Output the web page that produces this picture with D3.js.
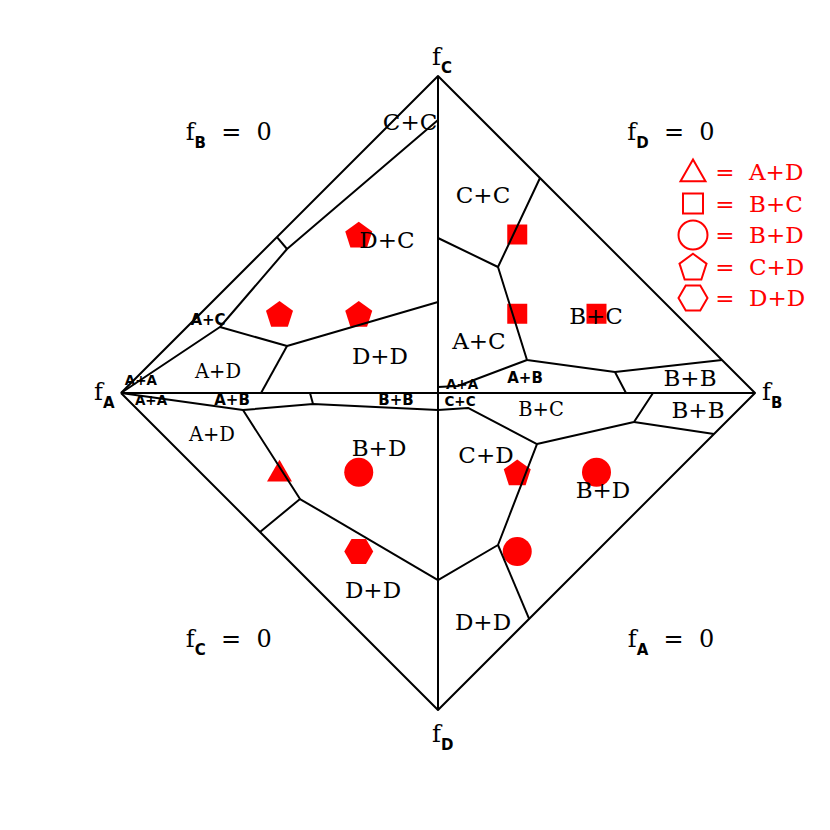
<!DOCTYPE html>
<html>
<head>
<meta charset="utf-8">
<script src="https://cdn.jsdelivr.net/npm/d3@7"></script>
<style>
  html, body { margin: 0; padding: 0; background: #fff; }
  svg { display: block; }
  text { white-space: pre; }
</style>
</head>
<body>
<svg id="chart" width="830" height="830"></svg>
<script>
// ---------- data (unit coordinates: f_A=(-4,0), f_B=(4,0), f_C=(0,4), f_D=(0,-4)) ----------
const vertexNames = ["A", "B", "C", "D"];
const vertexX = [-4, 4, 0, 0];
const vertexY = [0, 0, 4, -4];

// region boundaries (polylines)
const outline = [[-4,0],[0,4],[4,0],[0,-4],[-4,0]];
const axisLines = [ [[-4,0],[4,0]], [[0,4],[0,-4]] ];
const boundaries = [
  // upper left (A, C, D)
  [[0,3.445],[-1.905,1.817],[-2.751,0.833],[-4,0]],
  [[-2.032,1.968],[-1.905,1.817]],
  [[-2.751,0.833],[-1.905,0.593],[0,1.148]],
  [[-1.905,0.593],[-2.233,0]],
  // upper right (B, C)
  [[0,1.956],[0.757,1.590],[1.287,2.713]],
  [[0.757,1.590],[1.123,0.416],[2.233,0.265],[2.372,0]],
  [[2.233,0.265],[3.584,0.416]],
  [[1.123,0.416],[0.252,0.088],[0,0.076]],
  // lower right (B, D)
  [[0,-0.215],[0.379,-0.189],[1.249,-0.644],[2.473,-0.366],[2.713,0]],
  [[2.473,-0.366],[3.483,-0.517]],
  [[1.249,-0.644],[0.757,-1.918],[0,-2.360]],
  [[0.757,-1.918],[1.15,-2.85]],
  // lower left (A, D)
  [[-4,0],[-2.461,-0.215],[-1.577,-0.139],[0,-0.215]],
  [[-1.577,-0.139],[-1.615,0]],
  [[-2.461,-0.215],[-1.741,-1.338],[-2.246,-1.754]],
  [[-1.741,-1.338],[0,-2.360]]
];

// red markers (grid points)
const triangles = [[-2,-1]];
const squares   = [[1,2],[1,1],[2,1]];
const circles   = [[-1,-1],[2,-1],[1,-2]];
const pentagons = [[-1,2],[-2,1],[-1,1],[1,-1]];
const hexagons  = [[-1,-2]];

// region labels
const bigLabels = [
  ["C+C",-0.353,3.42],["D+C",-0.644,1.931],["D+D",-0.732,0.467],
  ["C+C",0.568,2.498],["A+C",0.517,0.656],["B+C",1.994,0.972],
  ["B+B",3.18,0.189],["B+B",3.281,-0.215],["B+D",-0.744,-0.694],
  ["C+D",0.606,-0.782],["B+D",2.082,-1.224],["D+D",-0.82,-2.486],["D+D",0.568,-2.89]
];
const midLabels = [
  ["A+D",-2.776,0.278],["A+D",-2.852,-0.517],["B+C",1.30,-0.202]
];
const smallLabels = [
  ["A+C",-2.902,0.921],["A+B",-2.599,-0.088],["B+B",-0.53,-0.088],
  ["A+B",1.098,0.189]
];
const centreLabels = [
  ["A+A",0.303,0.108],["C+C",0.278,-0.108]
];
const tinyLabels = [
  ["A+A",-3.748,0.164],["A+A",-3.621,-0.088]
];
const legendSymbols = ["triangle","square","circle","pentagon","hexagon"];
const legendTexts = ["A+D","B+C","B+D","C+D","D+D"];
const cornerSubs = ["B","D","C","A"];
const cornerX = [-2.64, 2.94, -2.64, 2.94];
const cornerY = [3.19, 3.19, -3.2, -3.2];

// ---------- drawing ----------
const svg = d3.select("#chart");
const x = d3.scaleLinear().domain([-4, 4]).range([121, 755]);
const y = d3.scaleLinear().domain([-4, 4]).range([710, 76]);
const SERIF = "'DejaVu Serif', serif";
const SANS = "'DejaVu Sans', sans-serif";
const RED = "#ff0000";

function polyPath(R) {
  return n => {
    const pts = d3.range(n).map(i => {
      const a = -Math.PI / 2 + i * 2 * Math.PI / n;
      return [R * Math.cos(a), R * Math.sin(a)];
    });
    return "M" + pts.map(p => p.join(",")).join("L") + "Z";
  };
}
function hexPath(R) {
  const pts = d3.range(6).map(i => {
    const a = i * Math.PI / 3;
    return [R * Math.cos(a), R * Math.sin(a)];
  });
  return "M" + pts.map(p => p.join(",")).join("L") + "Z";
}
const shapePath = {
  triangle: d3.symbol(d3.symbolTriangle, 270)(),
  square: d3.symbol(d3.symbolSquare, 400)(),
  circle: d3.symbol(d3.symbolCircle, 660)(),
  pentagon: polyPath(14.2)(5),
  hexagon: hexPath(14.5)
};

const markerGroups = [
  ["triangle", triangles], ["square", squares], ["circle", circles],
  ["pentagon", pentagons], ["hexagon", hexagons]
];
const gm = svg.append("g");
markerGroups.forEach(([shape, pts]) => {
  gm.selectAll(null).data(pts).enter().append("path")
    .attr("d", shapePath[shape])
    .attr("transform", d => {
      const dy = shape === "triangle" ? 2 : (shape === "pentagon" ? 1.5 : 0);
      return `translate(${x(d[0])},${y(d[1]) + dy})`;
    })
    .attr("fill", RED);
});

const line = d3.line().x(d => x(d[0])).y(d => y(d[1]));
const gl = svg.append("g").attr("fill", "none").attr("stroke", "#000")
  .attr("stroke-width", 2).attr("stroke-linejoin", "round");
gl.append("path").attr("d", line(outline));
axisLines.forEach(l => gl.append("path").attr("d", line(l)));
boundaries.forEach(l => gl.append("path").attr("d", line(l)));

function addLabels(arr, size, family, weight) {
  svg.append("g").selectAll(null).data(arr).enter().append("text")
    .attr("x", d => x(d[1])).attr("y", d => y(d[2]))
    .attr("dy", "0.36em")
    .attr("text-anchor", "middle")
    .attr("font-family", family).attr("font-size", size).attr("font-weight", weight)
    .attr("fill", "#000")
    .text(d => d[0]);
}
addLabels(bigLabels, 23, SERIF, "normal");
addLabels(midLabels, 19.5, SERIF, "normal");
addLabels(smallLabels, 15, SANS, "bold");
addLabels(centreLabels, 13.5, SANS, "bold");
addLabels(tinyLabels, 13.5, SANS, "bold");

// vertex labels f_X
function fLabel(px, py, sub, tail) {
  const t = svg.append("text").attr("x", px).attr("y", py)
    .attr("fill", "#000");
  t.append("tspan").attr("font-family", SERIF).attr("font-size", 24).text("f");
  t.append("tspan").attr("font-family", SANS).attr("font-weight", "bold")
    .attr("font-size", 15).attr("dy", 8).text(sub);
  if (tail) {
    t.append("tspan").attr("font-family", SERIF).attr("font-size", 24)
      .attr("dy", -8).text(tail);
  }
  return t;
}
// vertex labels positioned relative to the vertices
fLabel(x(vertexX[2]) - 6, y(vertexY[2]) - 11, vertexNames[2]);
fLabel(x(vertexX[0]) - 27, y(vertexY[0]) + 7, vertexNames[0]);
fLabel(x(vertexX[1]) + 7, y(vertexY[1]) + 7, vertexNames[1]);
fLabel(x(vertexX[3]) - 6, y(vertexY[3]) + 32, vertexNames[3]);

// corner "f_X = 0" labels
cornerSubs.forEach((s, i) => {
  const t = fLabel(x(cornerX[i]), y(cornerY[i]), s, "  =  0");
  const w = t.node().getComputedTextLength();
  t.attr("x", x(cornerX[i]) - w / 2);
});

// legend
const lg = svg.append("g");
legendSymbols.forEach((s, i) => {
  const cy = 172 + i * 31.5;
  const dy = s === "triangle" ? 2 : (s === "pentagon" ? 1.5 : 0);
  lg.append("path").attr("d", shapePath[s])
    .attr("transform", `translate(693,${cy + dy})`)
    .attr("fill", "none").attr("stroke", RED).attr("stroke-width", 2);
  lg.append("text").attr("x", 725).attr("y", cy).attr("dy", "0.36em")
    .attr("text-anchor", "middle").attr("font-family", SERIF).attr("font-size", 23)
    .attr("fill", RED).text("=");
  lg.append("text").attr("x", 749).attr("y", cy).attr("dy", "0.36em")
    .attr("font-family", SERIF).attr("font-size", 23)
    .attr("fill", RED).text(legendTexts[i]);
});
</script>
</body>
</html>
